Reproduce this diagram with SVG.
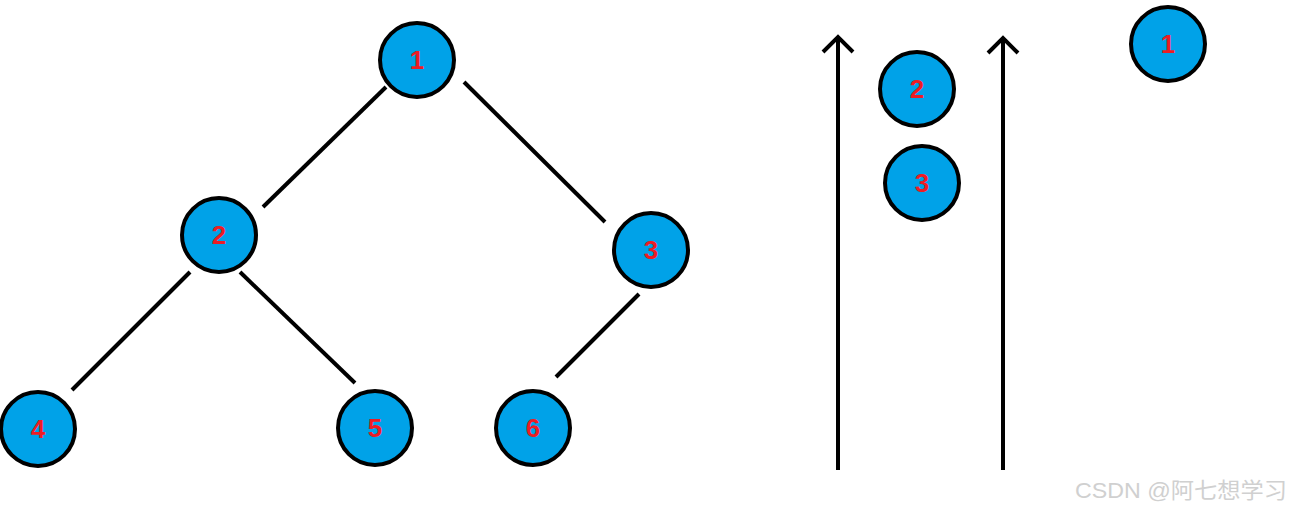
<svg xmlns="http://www.w3.org/2000/svg" width="1292" height="512" viewBox="0 0 1292 512">
<style>
.n{fill:#00a2e8;stroke:#000;stroke-width:4}
.t{fill:#ed1c24;font-family:"Liberation Sans",Arial,sans-serif;font-weight:bold;font-size:26px;text-anchor:middle;dominant-baseline:central}
.e{stroke:#000;stroke-width:4;fill:none}
.w{fill:#d0d0d0;font-family:"Liberation Sans","Noto Sans CJK SC",sans-serif;font-size:22px}
</style>
<rect width="1292" height="512" fill="#fff"/>
<g id="connectors">
<line class="e" x1="386" y1="87" x2="263" y2="207"/>
<line class="e" x1="464" y1="82" x2="605" y2="222"/>
<line class="e" x1="190" y1="272" x2="72" y2="390"/>
<line class="e" x1="240" y1="272" x2="355" y2="383"/>
<line class="e" x1="639" y1="294" x2="556" y2="377"/>
<path class="e" d="M838 470 V38 M823 52 L838 37 L853 52"/>
<path class="e" d="M1003 470 V39 M988 53 L1003 38 L1018 53"/>
</g>
<g id="n1"><circle class="n" cx="417" cy="60" r="37"/><text class="t" x="417" y="60">1</text></g>
<g id="n2"><circle class="n" cx="219" cy="235" r="37"/><text class="t" x="219" y="235">2</text></g>
<g id="n3"><circle class="n" cx="651" cy="250" r="37"/><text class="t" x="651" y="250">3</text></g>
<g id="n4"><circle class="n" cx="38" cy="429" r="37"/><text class="t" x="38" y="429">4</text></g>
<g id="n5"><circle class="n" cx="375" cy="428" r="37"/><text class="t" x="375" y="428">5</text></g>
<g id="n6"><circle class="n" cx="533" cy="428" r="37"/><text class="t" x="533" y="428">6</text></g>
<g id="q2"><circle class="n" cx="917" cy="89" r="37"/><text class="t" x="917" y="89">2</text></g>
<g id="q3"><circle class="n" cx="922" cy="183" r="37"/><text class="t" x="922" y="183">3</text></g>
<g id="r1"><circle class="n" cx="1168" cy="44" r="37"/><text class="t" x="1168" y="44">1</text></g>
<text class="w" x="1075" y="498" textLength="212" lengthAdjust="spacingAndGlyphs">CSDN @阿七想学习</text>
</svg>
